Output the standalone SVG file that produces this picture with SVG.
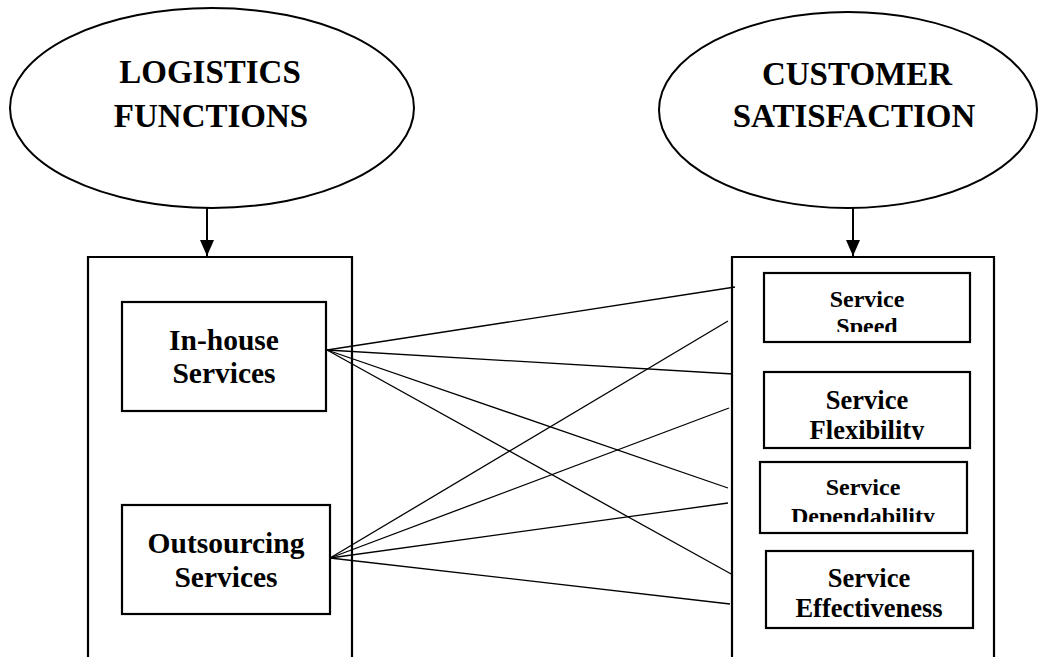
<svg xmlns="http://www.w3.org/2000/svg" width="1040" height="657" viewBox="0 0 1040 657">
<style>
text{font-family:"Liberation Serif","Times New Roman",serif;font-weight:bold;fill:#000;text-anchor:middle}
.ell{fill:#fff;stroke:#000;stroke-width:2}
.big{fill:none;stroke:#000;stroke-width:2.2}
.box{fill:#fff;stroke:#000;stroke-width:2.2}
.con line{stroke:#000;stroke-width:1.3}
.con line.arr{stroke-width:2;marker-end:url(#ah)}
.t1{font-size:33px}
.t2{font-size:29.5px}
.t3{font-size:24px}
.t4{font-size:26.5px}
</style>
<defs>
<marker id="ah" viewBox="0 0 16 14" refX="16" refY="7" markerWidth="8" markerHeight="7" markerUnits="strokeWidth" orient="auto">
<path d="M0,0 L16,7 L0,14 z" fill="#000"/>
</marker>
<clipPath id="cSpeed"><rect x="764" y="273" width="206" height="59"/></clipPath>
<clipPath id="cFlex"><rect x="764" y="372" width="206" height="68"/></clipPath>
<clipPath id="cDep"><rect x="760" y="462" width="207" height="60"/></clipPath>
</defs>
<rect width="1040" height="657" fill="#fff"/>

<g id="logistics-functions">
<ellipse class="ell" cx="212" cy="108" rx="202" ry="100"/>
<text class="t1" x="210" y="83">LOGISTICS</text>
<text class="t1" x="211" y="127">FUNCTIONS</text>
</g>

<g id="customer-satisfaction">
<ellipse class="ell" cx="848" cy="110" rx="189" ry="98"/>
<text class="t1" x="857" y="85">CUSTOMER</text>
<text class="t1" x="854" y="127">SATISFACTION</text>
</g>

<g id="logistics-container">
<path class="big" d="M88,680 L88,257 L352,257 L352,680"/>
</g>

<g id="customer-container">
<path class="big" d="M732,680 L732,257 L994,257 L994,680"/>
</g>

<g id="inhouse">
<rect class="box" x="122" y="302" width="204" height="109"/>
<text class="t2" x="224" y="350">In-house</text>
<text class="t2" x="224" y="383">Services</text>
</g>

<g id="outsourcing">
<rect class="box" x="122" y="505" width="208" height="109"/>
<text class="t2" x="226" y="553">Outsourcing</text>
<text class="t2" x="226" y="587">Services</text>
</g>

<g id="speed">
<rect class="box" x="764" y="273" width="206" height="69"/>
<g clip-path="url(#cSpeed)">
<text class="t3" x="867" y="307">Service</text>
<text class="t3" x="867" y="334">Speed</text>
</g>
</g>

<g id="flexibility">
<rect class="box" x="764" y="372" width="206" height="76"/>
<g clip-path="url(#cFlex)">
<text class="t4" x="867" y="409">Service</text>
<text class="t4" x="867" y="439">Flexibility</text>
</g>
</g>

<g id="dependability">
<rect class="box" x="760" y="462" width="207" height="71"/>
<g clip-path="url(#cDep)">
<text class="t3" x="863" y="495">Service</text>
<text class="t3" x="863" y="524">Dependability</text>
</g>
</g>

<g id="effectiveness">
<rect class="box" x="766" y="551" width="207" height="77"/>
<text class="t4" x="869" y="587">Service</text>
<text class="t4" x="869" y="617">Effectiveness</text>
</g>

<g id="connectors" class="con">
<line class="arr" x1="207" y1="208" x2="207" y2="256"/>
<line class="arr" x1="853" y1="208" x2="853" y2="256"/>
<line x1="327" y1="350" x2="735" y2="287"/>
<line x1="327" y1="350" x2="733" y2="374"/>
<line x1="327" y1="350" x2="728" y2="488"/>
<line x1="327" y1="350" x2="733" y2="575"/>
<line x1="330" y1="558" x2="728" y2="321"/>
<line x1="330" y1="558" x2="729" y2="408"/>
<line x1="330" y1="558" x2="728" y2="503"/>
<line x1="330" y1="558" x2="730" y2="604"/>
</g>
</svg>
